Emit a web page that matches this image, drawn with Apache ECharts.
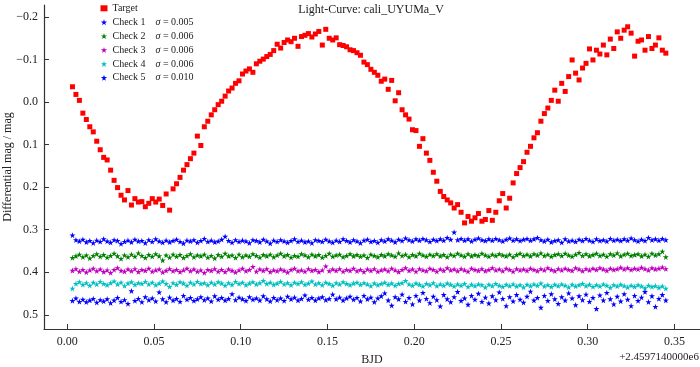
<!DOCTYPE html>
<html>
<head>
<meta charset="utf-8">
<script src="https://cdn.jsdelivr.net/npm/echarts@6/dist/echarts.min.js"></script>
<style>html,body{margin:0;padding:0;background:#fff}#c{width:700px;height:367px}</style>
</head>
<body>
<div id="c"></div>
<script>
// Shared time stamps (BJD - 2459714)
const bjd = [
0.003,0.005,0.007,0.009,0.011,0.013,0.015,0.017,0.019,0.021,
0.023,0.025,0.027,0.029,0.031,0.033,0.035,0.037,0.039,0.041,
0.043,0.045,0.047,0.049,0.051,0.053,0.055,0.057,0.059,0.061,
0.063,0.065,0.067,0.069,0.071,0.073,0.075,0.077,0.079,0.081,
0.083,0.085,0.087,0.089,0.091,0.093,0.095,0.097,0.099,0.101,
0.103,0.105,0.107,0.109,0.111,0.113,0.115,0.117,0.119,0.121,
0.123,0.125,0.127,0.129,0.131,0.133,0.135,0.137,0.139,0.141,
0.143,0.145,0.147,0.149,0.151,0.153,0.155,0.157,0.159,0.161,
0.163,0.165,0.167,0.169,0.171,0.173,0.175,0.177,0.179,0.181,
0.183,0.185,0.187,0.189,0.191,0.193,0.195,0.197,0.199,0.201,
0.203,0.205,0.207,0.209,0.211,0.213,0.215,0.217,0.219,0.221,
0.223,0.225,0.227,0.229,0.231,0.233,0.235,0.237,0.239,0.241,
0.243,0.245,0.247,0.249,0.251,0.253,0.255,0.257,0.259,0.261,
0.263,0.265,0.267,0.269,0.271,0.273,0.275,0.277,0.279,0.281,
0.283,0.285,0.287,0.289,0.291,0.293,0.295,0.297,0.299,0.301,
0.303,0.305,0.307,0.309,0.311,0.313,0.315,0.317,0.319,0.321,
0.323,0.325,0.327,0.329,0.331,0.333,0.335,0.337,0.339,0.341,
0.343,0.345];

const target = [
-0.036,-0.018,-0.004,0.026,0.041,0.058,0.070,0.092,0.112,0.130,
0.136,0.160,0.184,0.201,0.219,0.230,0.208,0.242,0.227,0.235,
0.234,0.246,0.238,0.227,0.235,0.228,0.243,0.216,0.254,0.204,
0.192,0.177,0.160,0.147,0.133,0.120,0.080,0.102,0.058,0.045,
0.030,0.018,0.006,-0.002,-0.014,-0.026,-0.033,-0.044,-0.050,-0.066,
-0.073,-0.078,-0.070,-0.090,-0.096,-0.101,-0.107,-0.112,-0.121,-0.136,
-0.127,-0.140,-0.146,-0.142,-0.150,-0.131,-0.154,-0.157,-0.161,-0.153,
-0.160,-0.166,-0.134,-0.171,-0.150,-0.146,-0.151,-0.135,-0.133,-0.130,
-0.123,-0.121,-0.116,-0.110,-0.094,-0.088,-0.077,-0.070,-0.063,-0.049,
-0.054,-0.030,-0.051,-0.003,-0.022,0.018,0.030,0.040,0.065,0.067,
0.104,0.086,0.120,0.137,0.165,0.186,0.210,0.222,0.230,0.237,
0.249,0.241,0.259,0.284,0.269,0.280,0.272,0.262,0.280,0.276,
0.255,0.278,0.259,0.232,0.215,0.249,0.226,0.190,0.168,0.154,
0.140,0.118,0.104,0.084,0.072,0.045,0.027,0.014,-0.004,-0.028,
-0.002,-0.044,-0.025,-0.060,-0.099,-0.068,-0.052,-0.080,-0.091,-0.125,
-0.099,-0.122,-0.113,-0.134,-0.111,-0.148,-0.126,-0.165,-0.150,-0.169,
-0.177,-0.162,-0.108,-0.143,-0.146,-0.122,-0.154,-0.126,-0.134,-0.151,
-0.122,-0.115];

const check1 = [
0.313,0.324,0.327,0.323,0.329,0.326,0.331,0.325,0.328,0.322,
0.327,0.330,0.324,0.326,0.333,0.328,0.325,0.329,0.323,0.327,
0.326,0.331,0.324,0.328,0.322,0.327,0.330,0.325,0.329,0.326,
0.323,0.328,0.332,0.325,0.327,0.324,0.330,0.326,0.321,0.328,
0.325,0.329,0.327,0.323,0.316,0.326,0.330,0.324,0.328,0.325,
0.327,0.331,0.324,0.326,0.329,0.323,0.327,0.332,0.325,0.328,
0.324,0.327,0.330,0.326,0.322,0.328,0.325,0.329,0.327,0.331,
0.324,0.326,0.328,0.323,0.327,0.330,0.325,0.328,0.322,0.326,
0.329,0.324,0.327,0.331,0.325,0.323,0.328,0.326,0.330,0.324,
0.327,0.322,0.325,0.329,0.323,0.326,0.320,0.324,0.327,0.322,
0.325,0.321,0.324,0.328,0.323,0.326,0.322,0.325,0.319,0.323,
0.306,0.324,0.321,0.325,0.322,0.327,0.323,0.320,0.324,0.326,
0.322,0.325,0.321,0.324,0.327,0.323,0.320,0.325,0.322,0.326,
0.323,0.321,0.325,0.322,0.319,0.324,0.327,0.323,0.329,0.326,
0.324,0.330,0.322,0.327,0.325,0.328,0.323,0.326,0.321,0.325,
0.328,0.322,0.326,0.324,0.327,0.321,0.325,0.323,0.326,0.322,
0.325,0.320,0.324,0.327,0.323,0.326,0.319,0.324,0.322,0.325,
0.321,0.324];

const check2 = [
0.366,0.362,0.358,0.364,0.360,0.367,0.361,0.357,0.363,0.359,
0.365,0.361,0.356,0.362,0.368,0.360,0.364,0.358,0.363,0.355,
0.361,0.366,0.359,0.363,0.357,0.362,0.372,0.360,0.365,0.358,
0.363,0.359,0.366,0.361,0.357,0.364,0.360,0.362,0.358,0.365,
0.361,0.367,0.359,0.363,0.356,0.362,0.360,0.366,0.358,0.364,
0.360,0.363,0.357,0.361,0.365,0.359,0.362,0.358,0.364,0.360,
0.356,0.362,0.359,0.365,0.361,0.363,0.357,0.360,0.364,0.358,
0.362,0.359,0.365,0.361,0.356,0.363,0.360,0.358,0.364,0.361,
0.357,0.362,0.359,0.363,0.360,0.366,0.358,0.361,0.364,0.359,
0.362,0.357,0.360,0.363,0.355,0.361,0.358,0.364,0.359,0.362,
0.356,0.360,0.363,0.358,0.361,0.357,0.362,0.359,0.364,0.358,
0.361,0.356,0.360,0.363,0.357,0.362,0.359,0.361,0.356,0.360,
0.363,0.358,0.361,0.357,0.360,0.362,0.358,0.364,0.359,0.356,
0.361,0.358,0.362,0.357,0.360,0.355,0.361,0.358,0.363,0.359,
0.357,0.361,0.356,0.360,0.363,0.358,0.354,0.361,0.357,0.362,
0.359,0.356,0.361,0.358,0.363,0.357,0.360,0.355,0.362,0.358,
0.356,0.361,0.359,0.357,0.362,0.358,0.363,0.356,0.360,0.357,
0.351,0.364];

const check3 = [
0.396,0.392,0.398,0.394,0.400,0.395,0.391,0.397,0.393,0.399,
0.395,0.401,0.394,0.390,0.396,0.398,0.393,0.397,0.392,0.399,
0.394,0.396,0.391,0.398,0.395,0.393,0.400,0.396,0.392,0.397,
0.394,0.399,0.395,0.391,0.397,0.393,0.398,0.395,0.401,0.394,
0.396,0.392,0.398,0.394,0.399,0.393,0.396,0.400,0.395,0.391,
0.397,0.394,0.387,0.398,0.393,0.396,0.392,0.399,0.395,0.397,
0.393,0.396,0.400,0.394,0.391,0.397,0.395,0.398,0.392,0.396,
0.394,0.399,0.395,0.386,0.397,0.393,0.396,0.392,0.398,0.394,
0.396,0.391,0.397,0.394,0.399,0.393,0.396,0.392,0.398,0.395,
0.393,0.397,0.391,0.395,0.399,0.394,0.390,0.396,0.393,0.398,
0.392,0.395,0.397,0.391,0.394,0.398,0.393,0.396,0.390,0.395,
0.393,0.397,0.392,0.395,0.398,0.391,0.394,0.396,0.392,0.397,
0.394,0.390,0.395,0.393,0.397,0.391,0.394,0.398,0.392,0.395,
0.393,0.396,0.391,0.394,0.397,0.392,0.395,0.390,0.394,0.397,
0.392,0.395,0.391,0.394,0.396,0.390,0.393,0.397,0.392,0.395,
0.391,0.394,0.390,0.393,0.396,0.391,0.394,0.392,0.389,0.393,
0.390,0.394,0.391,0.393,0.389,0.392,0.395,0.390,0.393,0.391,
0.388,0.392];

const check4 = [
0.438,0.427,0.423,0.429,0.425,0.431,0.424,0.428,0.422,0.427,
0.430,0.425,0.421,0.428,0.424,0.432,0.426,0.423,0.429,0.425,
0.427,0.422,0.428,0.424,0.430,0.426,0.421,0.427,0.434,0.425,
0.429,0.423,0.426,0.431,0.424,0.428,0.422,0.427,0.425,0.430,
0.424,0.428,0.423,0.426,0.431,0.425,0.429,0.422,0.427,0.424,
0.430,0.426,0.423,0.428,0.425,0.420,0.427,0.424,0.429,0.426,
0.422,0.428,0.425,0.430,0.424,0.427,0.423,0.429,0.426,0.421,
0.428,0.425,0.430,0.424,0.427,0.431,0.425,0.428,0.423,0.427,
0.430,0.426,0.424,0.429,0.425,0.428,0.432,0.426,0.430,0.427,
0.424,0.429,0.426,0.431,0.427,0.425,0.420,0.428,0.431,0.426,
0.429,0.433,0.427,0.430,0.425,0.432,0.428,0.431,0.426,0.429,
0.433,0.428,0.431,0.427,0.434,0.429,0.432,0.428,0.430,0.435,
0.429,0.432,0.427,0.431,0.434,0.429,0.432,0.428,0.433,0.430,
0.435,0.429,0.432,0.428,0.431,0.426,0.433,0.430,0.434,0.429,
0.432,0.428,0.431,0.435,0.429,0.433,0.430,0.427,0.432,0.429,
0.434,0.430,0.433,0.428,0.431,0.436,0.430,0.433,0.429,0.432,
0.435,0.431,0.434,0.430,0.433,0.437,0.431,0.434,0.432,0.436,
0.433,0.438];

const check5 = [
0.467,0.461,0.469,0.464,0.470,0.466,0.462,0.471,0.465,0.468,
0.463,0.472,0.466,0.460,0.469,0.465,0.474,0.444,0.467,0.462,
0.470,0.458,0.465,0.461,0.468,0.447,0.463,0.470,0.459,0.466,
0.462,0.469,0.455,0.464,0.460,0.467,0.463,0.458,0.465,0.461,
0.468,0.456,0.464,0.460,0.466,0.462,0.451,0.465,0.459,0.463,
0.467,0.458,0.464,0.461,0.466,0.456,0.463,0.468,0.460,0.465,
0.461,0.467,0.457,0.463,0.459,0.466,0.462,0.454,0.464,0.460,
0.466,0.461,0.458,0.465,0.462,0.452,0.463,0.459,0.466,0.461,
0.457,0.464,0.460,0.468,0.455,0.463,0.459,0.470,0.461,0.456,
0.449,0.466,0.478,0.458,0.463,0.452,0.469,0.460,0.475,0.455,
0.466,0.448,0.462,0.472,0.457,0.465,0.480,0.453,0.463,0.470,
0.458,0.446,0.467,0.461,0.476,0.455,0.464,0.450,0.469,0.459,
0.473,0.456,0.465,0.447,0.462,0.479,0.458,0.468,0.453,0.464,
0.471,0.457,0.445,0.466,0.460,0.483,0.455,0.467,0.451,0.463,
0.474,0.458,0.466,0.449,0.461,0.477,0.456,0.465,0.452,0.469,
0.460,0.486,0.454,0.466,0.448,0.463,0.475,0.457,0.468,0.451,
0.464,0.479,0.455,0.467,0.459,0.446,0.470,0.456,0.481,0.462,
0.453,0.466];

const seriesNames = ['Target', 'Check 1', 'Check 2', 'Check 3', 'Check 4', 'Check 5'];
const sigmas = [null, '0.005', '0.006', '0.006', '0.006', '0.010'];
const yTicks = [-0.2, -0.1, 0.0, 0.1, 0.2, 0.3, 0.4, 0.5];
const xTicks = [0.00, 0.05, 0.10, 0.15, 0.20, 0.25, 0.30, 0.35];
const titleText = 'Light-Curve: cali_UYUMa_V';
const xName = 'BJD';
const yName = 'Differential mag / mag';
const offsetText = '+2.4597140000e6';

const colors = ['#ff0000', '#0000ff', '#008000', '#bf00bf', '#00bfbf', '#0000ff'];
const FONT = '"Liberation Serif","Times New Roman",serif';
const STAR = 'path://M50,0 L61.2,34.5 L97.6,34.5 L68.2,55.9 L79.4,90.5 L50,69.1 L20.6,90.5 L31.8,55.9 L2.4,34.5 L38.8,34.5 Z';

const allY = [target, check1, check2, check3, check4, check5];
const series = allY.map((ys, k) => ({
  name: seriesNames[k],
  type: 'scatter',
  symbol: k === 0 ? 'rect' : STAR,
  symbolSize: k === 0 ? 5 : 6,
  itemStyle: { color: colors[k], opacity: 1 },
  emphasis: { disabled: true },
  silent: true,
  z: k === 0 ? 3 : 2,
  data: bjd.map((x, i) => [x, ys[i]])
}));

const chart = echarts.init(document.getElementById('c'), null, { renderer: 'canvas' });
chart.setOption({
  animation: false,
  backgroundColor: '#ffffff',
  textStyle: { fontFamily: FONT },
  title: {
    text: titleText,
    left: 371,
    top: 4,
    padding: 0,
    textAlign: 'center',
    textStyle: { fontFamily: FONT, fontSize: 12, fontWeight: 'normal', color: '#222' }
  },
  legend: {
    orient: 'vertical',
    left: 100.5,
    top: 3.3,
    padding: 0,
    itemWidth: 7,
    itemHeight: 6,
    itemGap: 3.9,
    data: seriesNames.map((n, k) => ({ name: n, icon: k === 0 ? 'rect' : STAR })),
    formatter: function (name) {
      const k = seriesNames.indexOf(name);
      if (!sigmas[k]) return '{n|' + name + '}';
      return '{n|' + name + '}{s|σ}{n| = ' + sigmas[k] + '}';
    },
    textStyle: {
      fontFamily: FONT, fontSize: 10, color: '#222', lineHeight: 10,
      rich: {
        n: { fontFamily: FONT, fontSize: 10, color: '#222', lineHeight: 10 },
        s: { fontFamily: FONT, fontSize: 10, fontStyle: 'italic', color: '#222', lineHeight: 10, padding: [0, 0, 0, 10] }
      }
    }
  },
  grid: { left: 44, right: 0, top: 5, bottom: 38, containLabel: false, outerBoundsMode: 'none' },
  xAxis: {
    type: 'value',
    min: -0.0134,
    max: 0.3647,
    name: xName,
    nameLocation: 'middle',
    nameGap: 25,
    nameMoveOverlap: false,
    nameTextStyle: { fontFamily: FONT, fontSize: 12, color: '#222' },
    splitLine: { show: false },
    axisLine: { show: true, onZero: false, lineStyle: { color: '#333', width: 1.2 } },
    axisTick: { show: true, inside: true, length: 5, customValues: xTicks, lineStyle: { color: '#333' } },
    axisLabel: {
      customValues: xTicks, margin: 7,
      fontFamily: FONT, fontSize: 12, color: '#222',
      formatter: v => v.toFixed(2)
    }
  },
  yAxis: {
    type: 'value',
    inverse: true,
    min: -0.2282,
    max: 0.5334,
    name: yName,
    nameLocation: 'middle',
    nameGap: 30,
    nameMoveOverlap: false,
    nameTextStyle: { fontFamily: FONT, fontSize: 12, color: '#222' },
    splitLine: { show: false },
    axisLine: { show: true, onZero: false, lineStyle: { color: '#333', width: 1.2 } },
    axisTick: { show: true, inside: true, length: 5, customValues: yTicks, lineStyle: { color: '#333' } },
    axisLabel: {
      customValues: yTicks, margin: 6,
      fontFamily: FONT, fontSize: 12, color: '#222',
      formatter: v => (v < 0 ? '\u2212' + Math.abs(v).toFixed(1) : v.toFixed(1))
    }
  },
  graphic: [{
    type: 'text',
    right: 1,
    top: 352,
    style: { text: offsetText, font: '11px ' + FONT, fill: '#222' }
  }],
  series: series
});
</script>
</body>
</html>
